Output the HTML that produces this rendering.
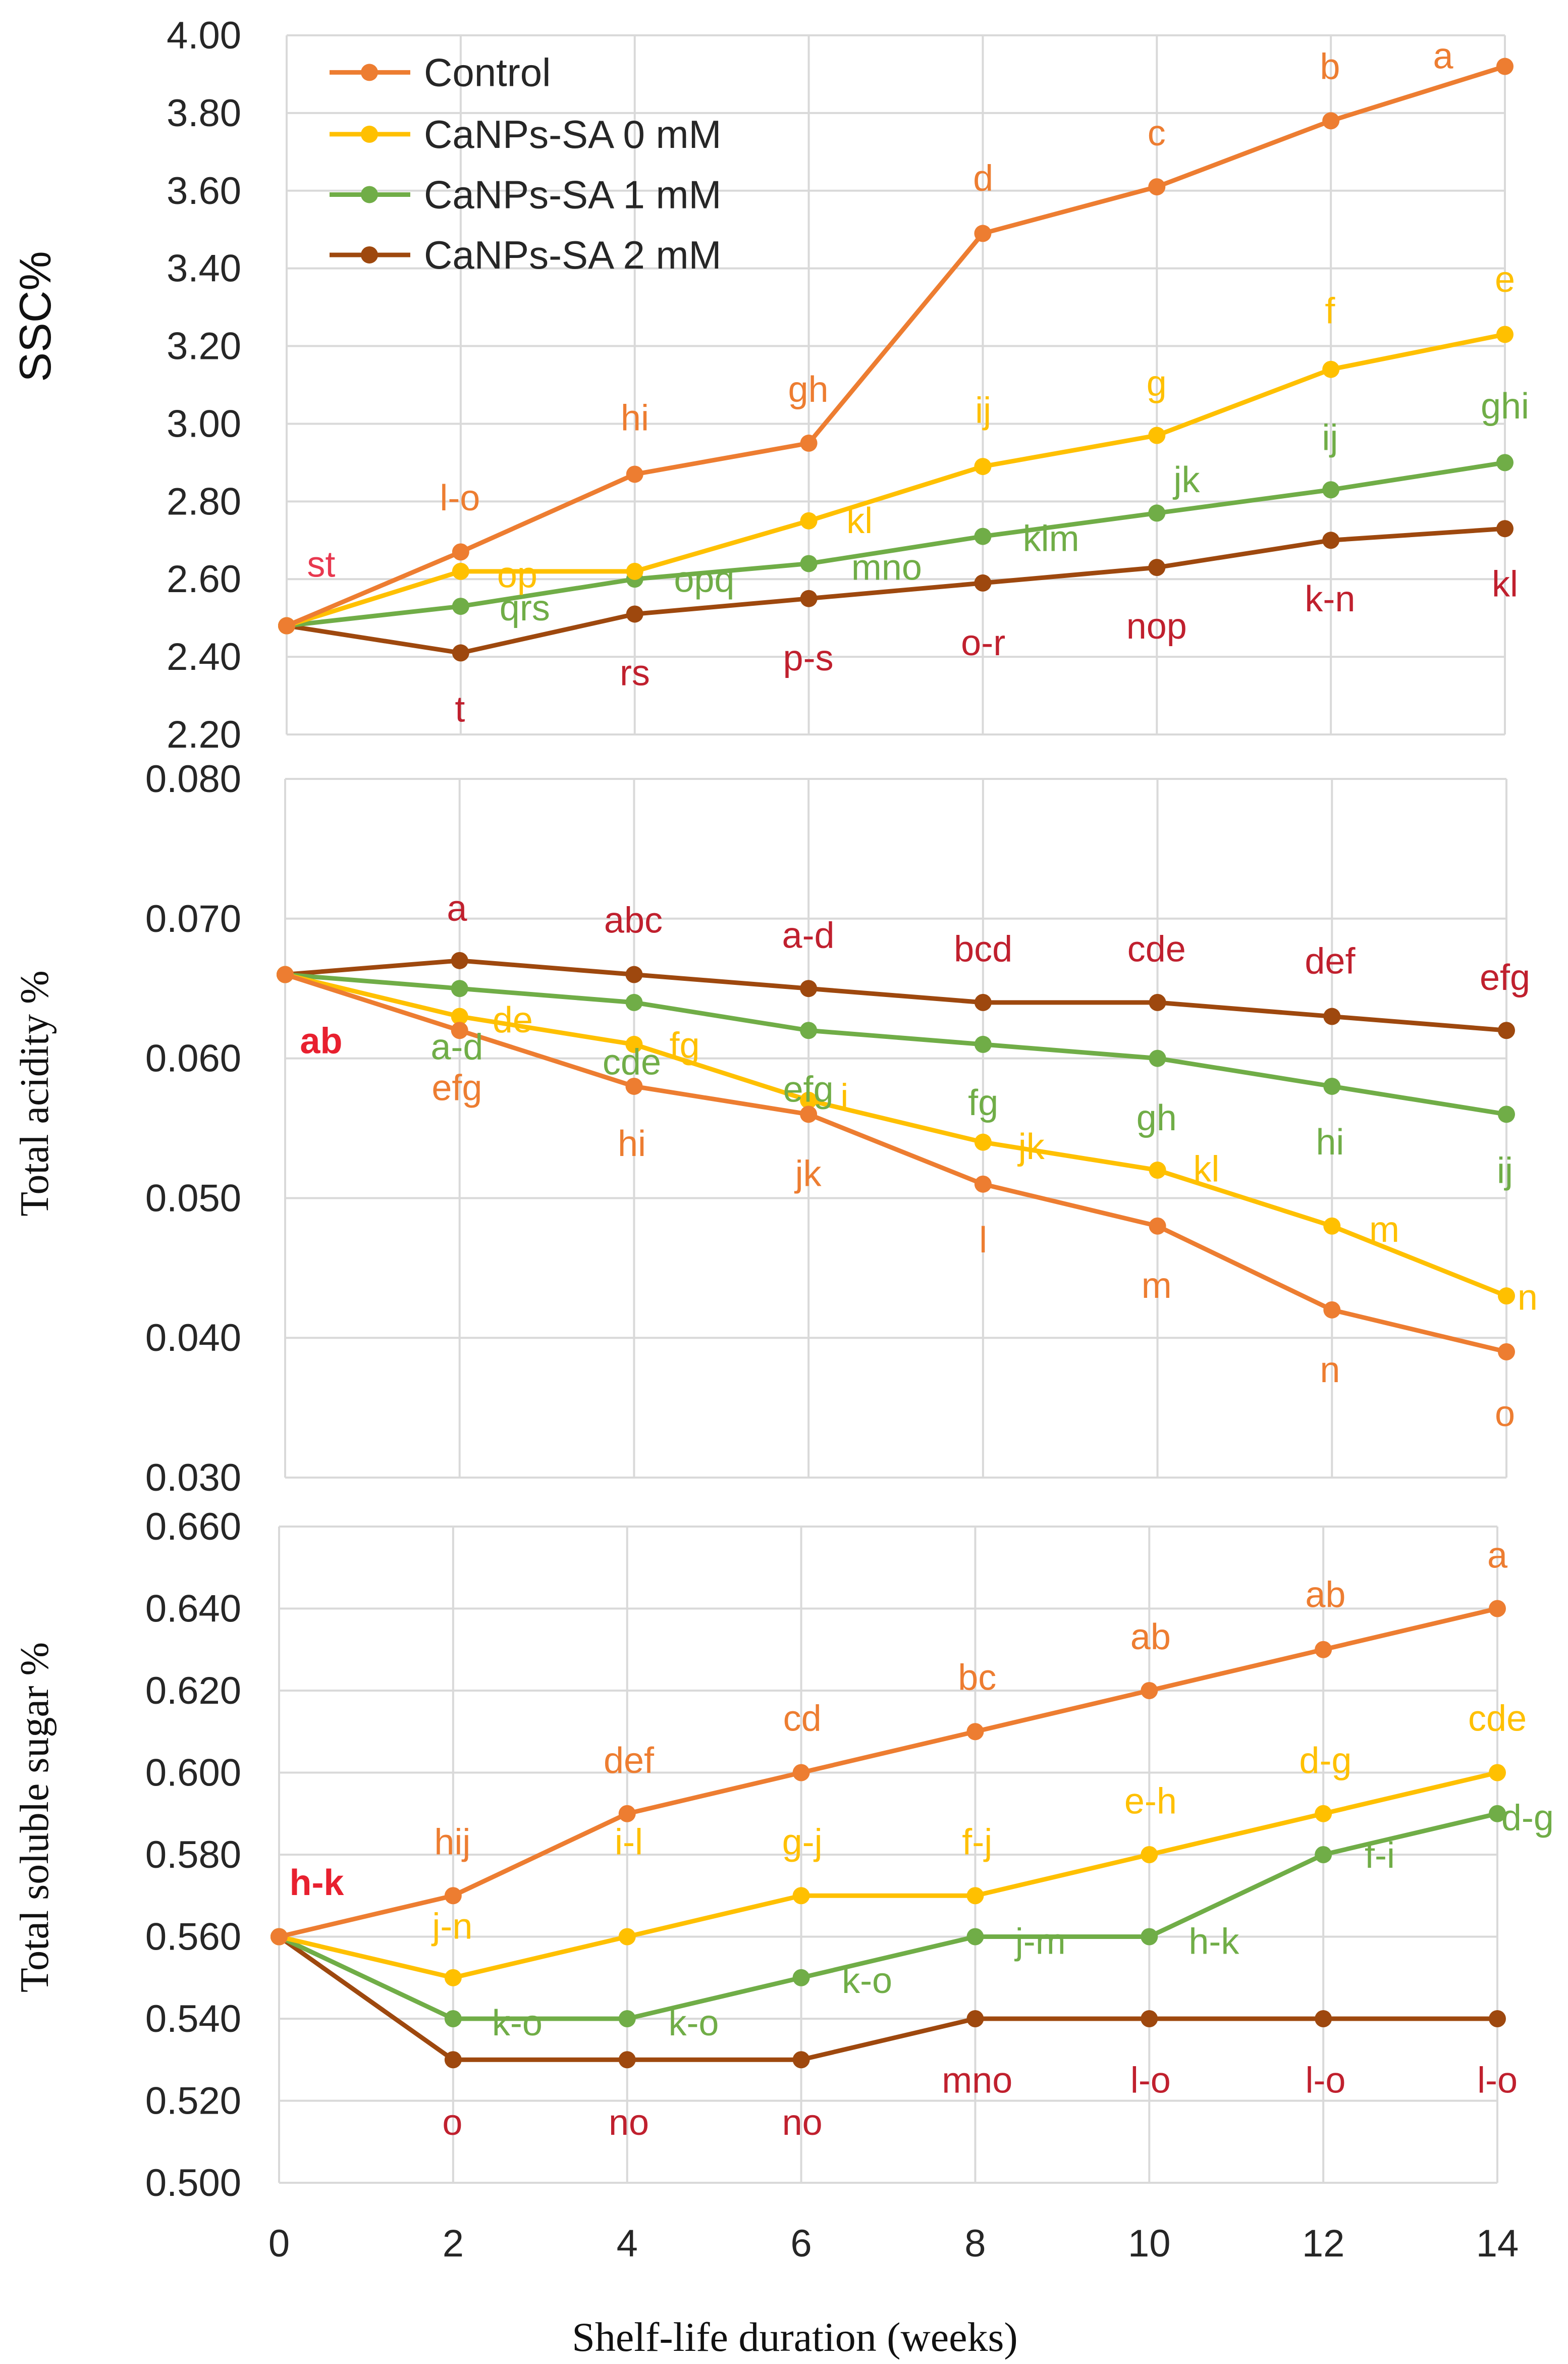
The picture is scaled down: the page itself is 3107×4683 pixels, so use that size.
<!DOCTYPE html>
<html><head><meta charset="utf-8"><style>
html,body{margin:0;padding:0;background:#fff;}
svg{display:block;}
text{font-family:"Liberation Sans",sans-serif;}
</style></head><body>
<svg id="chart" xmlns="http://www.w3.org/2000/svg" width="3107" height="4683" viewBox="0 0 3107 4683">
<rect width="3107" height="4683" fill="#fff"/>
</svg>
<script>
const weeks = [0,2,4,6,8,10,12,14];
const seriesNames = ["Control","CaNPs-SA 0 mM","CaNPs-SA 1 mM","CaNPs-SA 2 mM"];
const sscControl = [2.48,2.67,2.87,2.95,3.49,3.61,3.78,3.92];
const ssc0 = [2.48,2.62,2.62,2.75,2.89,2.97,3.14,3.23];
const ssc1 = [2.48,2.53,2.60,2.64,2.71,2.77,2.83,2.90];
const ssc2 = [2.48,2.41,2.51,2.55,2.59,2.63,2.70,2.73];
const acidControl = [0.066,0.062,0.058,0.056,0.051,0.048,0.042,0.039];
const acid0 = [0.066,0.063,0.061,0.057,0.054,0.052,0.048,0.043];
const acid1 = [0.066,0.065,0.064,0.062,0.061,0.060,0.058,0.056];
const acid2 = [0.066,0.067,0.066,0.065,0.064,0.064,0.063,0.062];
const sugarControl = [0.56,0.57,0.59,0.60,0.61,0.62,0.63,0.64];
const sugar0 = [0.56,0.55,0.56,0.57,0.57,0.58,0.59,0.60];
const sugar1 = [0.56,0.54,0.54,0.55,0.56,0.56,0.58,0.59];
const sugar2 = [0.56,0.53,0.53,0.53,0.54,0.54,0.54,0.54];
const sscTicks = ["2.20","2.40","2.60","2.80","3.00","3.20","3.40","3.60","3.80","4.00"];
const acidTicks = ["0.030","0.040","0.050","0.060","0.070","0.080"];
const sugarTicks = ["0.500","0.520","0.540","0.560","0.580","0.600","0.620","0.640","0.660"];
const xTickLabels = ["0","2","4","6","8","10","12","14"];

const NS="http://www.w3.org/2000/svg";
const svg=document.getElementById('chart');
const colors=["#ED7D31","#FFC000","#70AD47","#9E480E"];
const S=2.988;
function el(tag,attrs,parent){const e=document.createElementNS(NS,tag);for(const k in attrs)e.setAttribute(k,attrs[k]);(parent||svg).appendChild(e);return e;}

const panels=[
 {key:"ssc",x0:568,x14:2982,yTop:70,yBot:1455,ticks:sscTicks,series:[sscControl,ssc0,ssc1,ssc2],title:"SSC%",titleY:627,serif:false},
 {key:"acidity",x0:565,x14:2985,yTop:1543,yBot:2927,ticks:acidTicks,series:[acidControl,acid0,acid1,acid2],title:"Total acidity %",titleY:2166,serif:true},
 {key:"sugar",x0:553,x14:2967,yTop:3024,yBot:4324,ticks:sugarTicks,series:[sugarControl,sugar0,sugar1,sugar2],title:"Total soluble sugar %",titleY:3600,serif:true}
];

panels.forEach(p=>{
  const g=el('g',{});
  
  
  const vmin=parseFloat(p.ticks[0]),vmax=parseFloat(p.ticks[p.ticks.length-1]);
  const xs=w=>p.x0+(w-weeks[0])/(weeks[weeks.length-1]-weeks[0])*(p.x14-p.x0);
  const ys=v=>p.yBot-(v-vmin)/(vmax-vmin)*(p.yBot-p.yTop);
  p.ticks.forEach(t=>{
    const y=ys(parseFloat(t));
    const l=el('line',{x1:p.x0,x2:p.x14,y1:y,y2:y,stroke:"#d9d9d9","stroke-width":4},g);
    
    
    const tx=el('text',{x:478,y:y+26,"text-anchor":"end","font-size":76,fill:"#262626"},g);
    tx.textContent=t;
    
    
  });
  weeks.forEach(w=>{
    const x=xs(w);
    const l=el('line',{x1:x,x2:x,y1:p.yTop,y2:p.yBot,stroke:"#d9d9d9","stroke-width":4},g);
    
    
  });
  const tt=el('text',{x:0,y:0,"text-anchor":"middle","font-size":p.serif?80:88,fill:"#111",transform:`translate(${p.serif?95:100},${p.titleY}) rotate(-90)`},g);
  if(p.serif) tt.setAttribute('style','font-family:"Liberation Serif",serif');
  tt.textContent=p.title;
  
  
  [3,2,1,0].forEach(si=>{
    const vals=p.series[si];
    const pts=vals.map((v,i)=>xs(weeks[i])+","+ys(v)).join(" ");
    const pl=el('polyline',{points:pts,fill:"none",stroke:colors[si],"stroke-width":9,"stroke-linejoin":"round"},g);
    
    
    vals.forEach((v,i)=>{
      const c=el('circle',{cx:xs(weeks[i]),cy:ys(v),r:17,fill:colors[si]},g);
      
      
    });
  });
});

const bp=panels[2];
xTickLabels.forEach((t,i)=>{
  const x=bp.x0+i*(bp.x14-bp.x0)/7;
  const tx=el('text',{x:x,y:4470,"text-anchor":"middle","font-size":76,fill:"#262626"});
  tx.textContent=t;
  
  
});
const xt=el('text',{x:1575,y:4657,"text-anchor":"middle","font-size":82,fill:"#111",style:'font-family:"Liberation Serif",serif'});
xt.textContent="Shelf-life duration (weeks)";



const legY=[48,89,129,169];
seriesNames.forEach((n,i)=>{
  const y=legY[i]*S;
  const g=el('g',{});
  
  
  el('line',{x1:653,x2:813,y1:y,y2:y,stroke:colors[i],"stroke-width":9},g);
  el('circle',{cx:732,cy:y,r:17,fill:colors[i]},g);
  const t=el('text',{x:840,y:y+27,"font-size":78,fill:"#262626"},g);
  t.textContent=n;
});

const RED="#C0202E", OR="#ED7D31", YE="#FFC000", GR="#70AD47";
const letterLabels=[
 ["st",213,374,"#E8384F"],["l-o",305,330,OR],["hi",421,277,OR],["gh",536,258,OR],["d",652,118,OR],["c",767,88,OR],["b",882,44,OR],["a",957,37,OR],
 ["op",343,381,YE],["kl",570,345,YE],["ij",652,272,YE],["g",767,254,YE],["f",882,206,YE],["e",998,185,YE],
 ["qrs",348,403,GR],["opq",467,384,GR],["mno",588,376,GR],["klm",697,357,GR],["jk",787,318,GR],["ij",882,290,GR],["ghi",998,269,GR],
 ["t",305,470,RED],["rs",421,446,RED],["p-s",536,436,RED],["o-r",652,426,RED],["nop",767,415,RED],["k-n",882,397,RED],["kl",998,387,RED],
 ["ab",213,690,"#E8202F",true],["a",303,602,RED],["abc",420,610,RED],["a-d",536,620,RED],["bcd",652,629,RED],["cde",767,629,RED],["def",882,637,RED],["efg",998,648,RED],
 ["a-d",303,694,GR],["cde",419,704,GR],["efg",536,722,GR],["fg",652,731,GR],["gh",767,741,GR],["hi",882,757,GR],["ij",998,776,GR],
 ["de",340,676,YE],["fg",454,693,YE],["i",560,727,YE],["jk",684,760,YE],["kl",800,775,YE],["m",918,815,YE],["n",1013,860,YE],
 ["efg",303,721,OR],["hi",419,758,OR],["jk",536,778,OR],["l",652,822,OR],["m",767,852,OR],["n",882,908,OR],["o",998,937,OR],
 ["h-k",210,1248,"#E8202F",true],
 ["hij",300,1221,OR],["def",417,1167,OR],["cd",532,1139,OR],["bc",648,1112,OR],["ab",763,1085,OR],["ab",879,1057,OR],["a",993,1031,OR],
 ["j-n",300,1277,YE],["i-l",417,1221,YE],["g-j",532,1221,YE],["f-j",648,1221,YE],["e-h",763,1194,YE],["d-g",879,1167,YE],["cde",993,1139,YE],
 ["k-o",343,1341,GR],["k-o",460,1341,GR],["k-o",575,1313,GR],["j-m",690,1287,GR],["h-k",805,1287,GR],["f-i",915,1230,GR],["d-g",1013,1205,GR],
 ["o",300,1407,RED],["no",417,1407,RED],["no",532,1407,RED],["mno",648,1379,RED],["l-o",763,1379,RED],["l-o",879,1379,RED],["l-o",993,1379,RED]
];
letterLabels.forEach((L,i)=>{
  const t=el('text',{x:L[1]*S,y:L[2]*S+25,"text-anchor":"middle","font-size":72,fill:L[3]});
  if(L[4]) t.setAttribute('font-weight','bold');
  t.textContent=L[0];
  
  
});
</script>
</body></html>
